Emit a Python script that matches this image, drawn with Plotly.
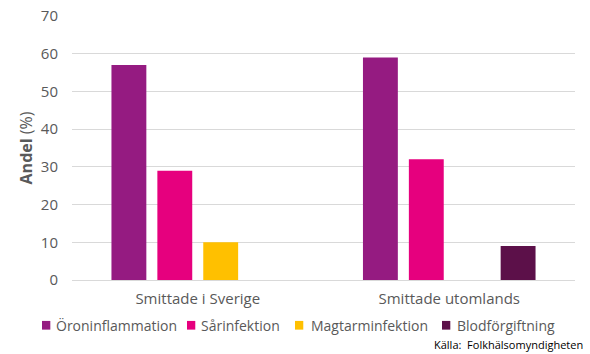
import plotly.graph_objects as go

categories = ["Smittade i Sverige", "Smittade utomlands"]
series_names = ["Öroninflammation", "Sårinfektion", "Magtarminfektion", "Blodförgiftning"]
values = {
    "Öroninflammation": [57, 59],
    "Sårinfektion": [29, 32],
    "Magtarminfektion": [10, None],
    "Blodförgiftning": [None, 9],
}
colors = ["#951B81", "#E6007E", "#FFC000", "#5C1049"]
y_ticks = [0, 10, 20, 30, 40, 50, 60, 70]

# legend layout (paper coords): left edge of swatch and text for each entry
legend_swatch_x = [-0.0596, 0.2286, 0.4433, 0.7356]
legend_text_x = [-0.0358, 0.2525, 0.4712, 0.7614]

fig = go.Figure()
for name, col in zip(series_names, colors):
    fig.add_trace(go.Bar(
        x=categories, y=values[name], name=name,
        marker=dict(color=col, line=dict(width=0)),
        showlegend=False,
    ))

font_family = "Open Sans, Noto Sans, sans-serif"
annotations = []
shapes = []
for name, col, sx, tx in zip(series_names, colors, legend_swatch_x, legend_text_x):
    shapes.append(dict(type="rect", xref="paper", yref="paper",
                       x0=sx, x1=sx + 0.0165, y0=-0.188, y1=-0.155,
                       fillcolor=col, line=dict(width=0)))
    annotations.append(dict(text=name, xref="paper", yref="paper", x=tx, y=-0.1705,
                            xanchor="left", yanchor="middle", showarrow=False,
                            font=dict(size=14, color="#595959")))
annotations.append(dict(text="Källa:  Folkhälsomyndigheten", xref="paper", yref="paper",
                        x=1.02, y=-0.246, xanchor="right", yanchor="middle", showarrow=False,
                        font=dict(size=11, color="#000000")))

fig.update_layout(
    width=590, height=354,
    margin=dict(l=72, r=15, t=16, b=74, autoexpand=False),
    paper_bgcolor="white", plot_bgcolor="white",
    barmode="group", bargap=0.27, bargroupgap=0.24,
    font=dict(family=font_family, color="#595959", size=14),
    showlegend=False,
    xaxis=dict(showgrid=False, showline=False, ticks="", ticklabelstandoff=8,
               tickfont=dict(size=15, color="#595959")),
    yaxis=dict(range=[0, 70], tickvals=y_ticks, showgrid=True, gridcolor="#D9D9D9",
               gridwidth=1, zeroline=True, zerolinecolor="#D9D9D9", zerolinewidth=1,
               tickfont=dict(size=15, color="#595959"), ticks="", ticklen=0,
               ticklabelstandoff=13,
               title=dict(text="<b>Andel</b> (%)", font=dict(size=16, color="#595959"), standoff=4)),
    shapes=shapes,
    annotations=annotations,
)
fig.write_html("out.html")
